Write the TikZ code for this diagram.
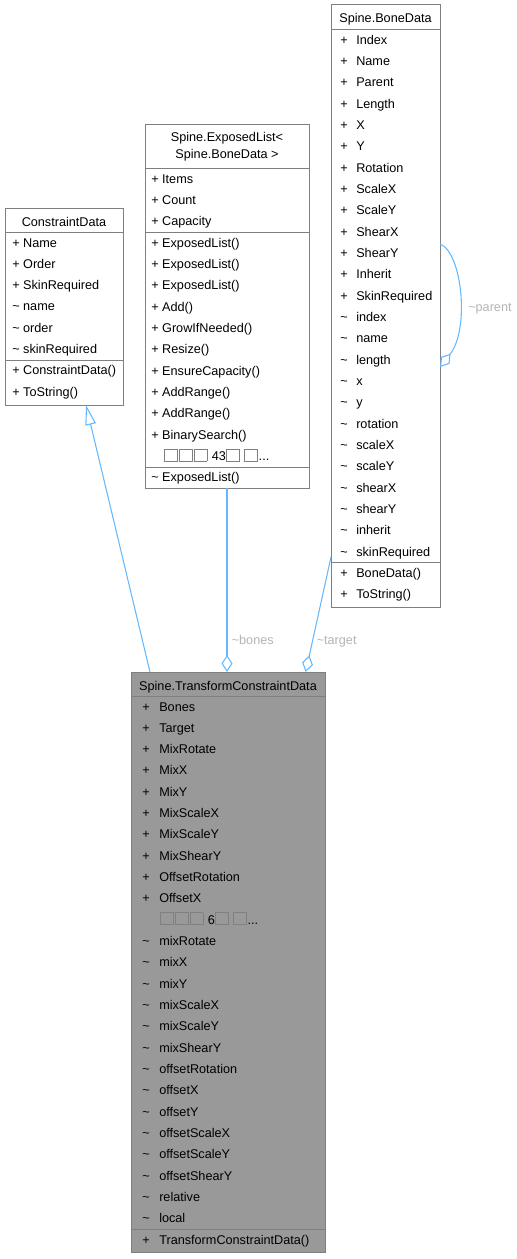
\documentclass[tikz,border=0pt]{standalone}
\usepackage{fontspec}
\setmainfont{Liberation Sans}
\usepackage{xcolor}
\usetikzlibrary{arrows.meta,calc}

\definecolor{edgeblue}{HTML}{63B8FF}
\definecolor{boxline}{HTML}{7F7F7F}
\definecolor{rolegray}{HTML}{B4B4B4}
\definecolor{mainfill}{HTML}{999999}
\newcommand{\px}{0.75pt}
\newcommand{\tofu}{{\color{gray}\setlength{\fboxsep}{0pt}\setlength{\fboxrule}{0.5pt}\fbox{\rule{0pt}{8.4pt}\hspace{9.4pt}}}\hspace{0.6pt}}

\begin{document}
\begin{tikzpicture}[
    x=0.75pt, y=-0.75pt,
    font=\fontsize{9.5}{11}\selectfont,
    classbox/.style={draw=boxline, line width=0.75pt, fill=#1, anchor=north west,
                     inner sep=0pt, outer sep=0pt},
    classbox/.default=white,
    member/.style={anchor=base west, inner sep=0pt},
    title/.style={anchor=base, inner sep=0pt},
    sepline/.style={draw=boxline, line width=0.75pt},
    link/.style={draw=edgeblue, line width=0.8pt},
    role/.style={anchor=base west, inner sep=0pt, text=rolegray},
]
\useasboundingbox (0,0) rectangle (517,1259);

% --- Boxes ---
\node[classbox, minimum width=118*\px, minimum height=197*\px] (cdata) at (5,208) {};
\node[classbox, minimum width=164*\px, minimum height=363*\px] (elist) at (145,125) {};
\node[classbox, minimum width=109*\px, minimum height=602*\px] (bdata) at (331,5) {};
\node[classbox=mainfill, minimum width=193.5*\px, minimum height=580*\px] (tcdata) at (131.5,672) {};

% --- Separators ---
\draw[sepline] ($(cdata.north west)+(0,24)$) -- ($(cdata.north east)+(0,24)$);
\draw[sepline] ($(cdata.north west)+(0,152)$) -- ($(cdata.north east)+(0,152)$);
\draw[sepline] ($(elist.north west)+(0,43.3)$) -- ($(elist.north east)+(0,43.3)$);
\draw[sepline] ($(elist.north west)+(0,107.3)$) -- ($(elist.north east)+(0,107.3)$);
\draw[sepline] ($(elist.north west)+(0,342)$) -- ($(elist.north east)+(0,342)$);
\draw[sepline] ($(bdata.north west)+(0,24.3)$) -- ($(bdata.north east)+(0,24.3)$);
\draw[sepline] ($(bdata.north west)+(0,557.7)$) -- ($(bdata.north east)+(0,557.7)$);
\draw[sepline] ($(tcdata.north west)+(0,24)$) -- ($(tcdata.north east)+(0,24)$);
\draw[sepline] ($(tcdata.north west)+(0,557.3)$) -- ($(tcdata.north east)+(0,557.3)$);

% --- ConstraintData ---
\node[title] (cdata-t) at (64,226) {ConstraintData};
\foreach \vis/\mem [count=\i from 0] in {+/Name,+/Order,+/SkinRequired,
    \textasciitilde/name,\textasciitilde/order,\textasciitilde/skinRequired,
    +/ConstraintData(),+/ToString()}
  \node[member] (cdata-m\i) at (12,{247+21.33*\i}) {\vis{} \mem};

% --- ExposedList ---
\node[title] (elist-t1) at (227,142) {Spine.ExposedList<};
\node[title] (elist-t2) at (227,158) {Spine.BoneData >};
\foreach \vis/\mem [count=\i from 0] in {+/Items,+/Count,+/Capacity,
    +/ExposedList(),+/ExposedList(),+/ExposedList(),+/Add(),+/GrowIfNeeded(),
    +/Resize(),+/EnsureCapacity(),+/AddRange(),+/AddRange(),+/BinarySearch()}
  \node[member] (elist-m\i) at (151,{183.3+21.33*\i}) {\vis{} \mem};
\node[member] (elist-more) at (164,{183.3+21.33*13}) {\tofu\tofu\tofu{} 43\tofu{} \tofu...};
\node[member] (elist-m14) at (151,{183.3+21.33*14}) {\textasciitilde{} ExposedList()};

% --- BoneData ---
\node[title] (bdata-t) at (385.5,23) {Spine.BoneData};
\foreach \vis/\mem [count=\i from 0] in {+/Index,+/Name,+/Parent,+/Length,+/X,+/Y,
    +/Rotation,+/ScaleX,+/ScaleY,+/ShearX,+/ShearY,+/Inherit,+/SkinRequired,
    \textasciitilde/index,\textasciitilde/name,\textasciitilde/length,
    \textasciitilde/x,\textasciitilde/y,\textasciitilde/rotation,
    \textasciitilde/scaleX,\textasciitilde/scaleY,\textasciitilde/shearX,
    \textasciitilde/shearY,\textasciitilde/inherit,\textasciitilde/skinRequired,
    +/BoneData(),+/ToString()}
  {
  \node[member] (bdata-v\i) at (340,{44.3+21.33*\i}) {\vis};
  \node[member] (bdata-m\i) at (356,{44.3+21.33*\i}) {\mem};
  }

% --- TransformConstraintData ---
\node[title] (tcdata-t) at (228,690) {Spine.TransformConstraintData};
\foreach \vis/\mem [count=\i from 0] in {+/Bones,+/Target,+/MixRotate,+/MixX,
    +/MixY,+/MixScaleX,+/MixScaleY,+/MixShearY,+/OffsetRotation,+/OffsetX}
  {
  \node[member] (tcdata-v\i) at (142,{711+21.33*\i}) {\vis};
  \node[member] (tcdata-m\i) at (159,{711+21.33*\i}) {\mem};
  }
\node[member] (tcdata-more) at (160,{711+21.33*10}) {\tofu\tofu\tofu{} 6\tofu{} \tofu...};
\foreach \vis/\mem [count=\i from 11] in {\textasciitilde/mixRotate,
    \textasciitilde/mixX,\textasciitilde/mixY,\textasciitilde/mixScaleX,
    \textasciitilde/mixScaleY,\textasciitilde/mixShearY,
    \textasciitilde/offsetRotation,\textasciitilde/offsetX,
    \textasciitilde/offsetY,\textasciitilde/offsetScaleX,
    \textasciitilde/offsetScaleY,\textasciitilde/offsetShearY,
    \textasciitilde/relative,\textasciitilde/local,+/TransformConstraintData()}
  {
  \node[member] (tcdata-v\i) at (142,{711+21.33*\i}) {\vis};
  \node[member] (tcdata-m\i) at (159,{711+21.33*\i}) {\mem};
  }

% --- Connectors ---
\draw[link, -{Triangle[open, length=15pt, width=8pt]}]
  ($(tcdata.north west)+(18.5,0)$) -- ($(cdata.south west)+(81,0)$);
\draw[link, -{Diamond[open, length=12.75pt, width=8.25pt]}]
  (elist.south) -- (elist.south |- tcdata.north);
\draw[link, -{Diamond[open, length=12.75pt, width=8.25pt]}]
  ($(bdata.north west)+(0,552)$) -- ($(tcdata.north west)+(174.2,0)$);
\draw[link, -{Diamond[open, length=12.75pt, width=8.25pt]}]
  ($(bdata.north east)+(0,239)$) .. controls +(22,8) and +(30,-38) .. ($(bdata.north east)+(0,362)$);

% --- Roles ---
\node[role] (bones-l) at (231.5,644) {\textasciitilde bones};
\node[role] (target-l) at (316.5,644) {\textasciitilde target};
\node[role] (parent-l) at (468,311) {\textasciitilde parent};

\end{tikzpicture}
\end{document}
